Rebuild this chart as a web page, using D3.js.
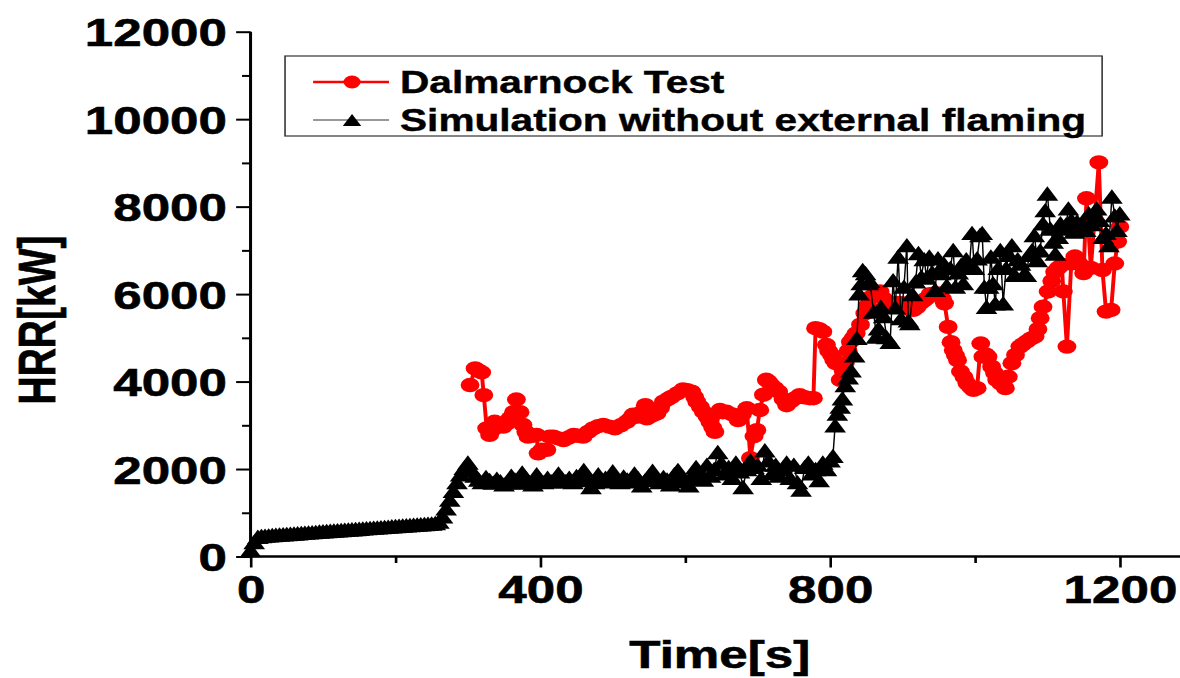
<!DOCTYPE html>
<html>
<head>
<meta charset="utf-8">
<script src="https://cdn.jsdelivr.net/npm/d3@7"></script>
<style>
  body { margin: 0; background: #fff; }
  svg { display: block; }
  text { font-family: "Liberation Sans", Arial, sans-serif; font-weight: bold; fill: #000; }
</style>
</head>
<body>
<svg id="chart" width="1180" height="678"></svg>
<script>
// Dalmarnock test (red)
const testTime = [303,310,315,319,322,326,330,334,337,343,349,354,358,363,367,372,376,380,383,389,395,397,402,409,413,418,425,432,439,446,452,459,466,473,480,487,495,503,511,519,524,528,535,540,545,547,554,561,566,570,576,581,589,597,603,609,613,616,621,625,630,634,638,641,648,652,657,665,673,679,685,690,695,699,703,708,712,715,719,724,729,735,740,746,752,758,765,772,777,780,785,790,795,798,802,805,808,814,818,821,825,828,832,836,842,848,852,857,863,869,874,878,885,892,899,905,910,915,920,925,929,933,938,943,947,951,955,958,963,967,970,973,976,980,985,989,994,998,1003,1008,1011,1015,1018,1023,1027,1030,1036,1042,1046,1051,1056,1062,1066,1071,1077,1083,1087,1090,1094,1101,1106,1110,1115,1120,1122,1127,1133,1138,1144,1150,1154,1160,1171,1176,1181,1188,1193,1197,1200];
const testHrr = [3920,4300,4250,4210,3690,2930,2780,2900,3080,3000,2970,3050,3160,3300,3590,3300,3010,2850,2740,2760,2780,2360,2440,2440,2740,2740,2700,2660,2720,2780,2760,2740,2850,2930,2980,3010,2970,2930,3000,3080,3150,3240,3200,3300,3460,3160,3220,3270,3400,3540,3600,3650,3730,3820,3800,3770,3650,3540,3420,3310,3200,3080,2950,2850,3350,3300,3310,3250,3120,3250,3390,2250,2750,2890,3350,3700,4040,4000,3920,3850,3770,3600,3460,3550,3620,3690,3640,3620,3620,5220,5200,5140,4840,4700,4610,4500,4420,4040,4250,4420,4700,4910,5000,5100,5300,5560,5750,5940,6000,6060,5900,5710,5750,5800,5790,5700,5650,5640,5700,5800,5850,5900,6000,6010,6020,6000,5900,5790,5250,4900,4720,4600,4490,4230,4100,3960,3870,3810,3850,4870,4570,4620,4570,4340,4200,4040,3950,3850,4110,4420,4610,4800,4850,4910,4980,5030,5200,5450,5710,6060,6300,6510,6600,6670,6060,4800,6700,6860,6700,6480,8190,6600,9010,6550,5600,5640,6700,7200,7540];

// Simulation without external flaming (black)
const simTime = [0,5,10,15,20,25,30,35,40,45,50,55,60,65,70,75,80,85,90,95,100,105,110,115,120,125,130,135,140,145,150,155,160,165,170,175,180,185,190,195,200,205,210,215,220,225,230,235,240,245,250,255,260,265,270,275,280,285,290,295,300,
  305,310,315,320,325,330,335,340,345,350,355,360,365,370,375,380,385,390,395,400,405,410,415,420,425,430,435,440,445,450,455,460,465,470,475,480,485,490,495,500,505,510,515,520,525,530,535,540,545,550,555,560,565,570,575,580,585,590,595,600,605,610,615,620,625,630,635,640,645,650,655,660,665,670,675,680,685,690,695,700,705,710,715,720,725,730,735,740,745,750,755,760,765,770,775,780,785,790,795,800,
  804,807,810,814,817,821,825,829,834,837,840,843,845,849,853,
  855,860,864,867,870,874,878,883,887,890,894,898,902,906,908,910,914,918,922,926,930,933,937,941,945,949,953,957,961,966,970,973,977,981,984,988,992,996,999,1003,1007,1010,1013,1016,1019,1022,1025,1028,1032,1035,1039,1043,1047,1051,1055,1059,1063,1067,1071,1075,1079,1082,1086,1090,1094,1097,1100,1104,1108,1111,1115,1118,1122,1126,1129,1133,1137,1141,1145,1149,1153,1157,1161,1165,1168,1172,1177,1181,1185,1189,1193,1196,1200];
const simHrr = [150,330,450,470,478,484,490,497,503,508,515,521,527,533,540,545,552,558,564,570,576,582,588,594,600,606,612,618,624,630,636,642,648,654,660,666,672,678,684,690,696,702,708,714,720,726,732,738,744,750,756,765,800,920,1100,1300,1500,1700,1880,2030,2150,
  1980,1850,1760,1700,1820,1750,1690,1780,1720,1650,1700,1850,1760,1690,1920,1800,1700,1650,1880,1760,1700,1800,1720,1760,1900,1780,1720,1800,1700,1840,1760,1980,1750,1590,1700,1880,1760,1800,1720,1950,1780,1700,1830,1760,1720,1900,1790,1630,1750,1850,1960,1780,1700,1820,1760,1650,1880,1980,1800,1720,1630,1870,2050,1800,1760,2100,1850,2000,2390,2150,1900,2050,1800,2150,1950,1590,2000,2200,2050,2100,1800,2430,2200,1900,2100,1850,2000,2150,1800,2100,1700,1530,2050,2150,1900,2000,1750,2150,2000,2200,
  2300,3000,3270,3430,3620,3920,4100,4260,4600,5000,6020,6250,6550,6480,6250,
  6300,5600,5030,5220,5710,5500,5020,4910,6320,5700,6860,5450,6170,7120,5400,5340,6000,6290,6940,6400,6800,6380,6860,6500,6100,6820,6480,6700,6200,6600,7010,6170,6500,6670,6250,6800,6600,7400,6600,6820,7350,7400,6170,5710,6170,6860,6250,5790,6600,7010,5790,6600,6900,7120,6440,6800,6700,6440,6440,6900,7010,7350,6780,7000,7620,7920,8300,7500,7200,6930,7310,7620,7500,7600,7960,7700,7430,7660,7500,7600,7470,7850,7600,7740,7960,7700,7310,7400,7120,8230,7800,7470,7850];

const seriesNames = ["Dalmarnock Test", "Simulation without external flaming"];
const xMajor = [0, 400, 800, 1200];
const xMinor = [200, 600, 1000];
const yMajor = [0, 2000, 4000, 6000, 8000, 10000, 12000];
const yMinor = [1000, 3000, 5000, 7000, 9000, 11000];

// the picture is an 900px wide plot stretched to 1180
const stretch = 1180 / 900;

const svg = d3.select("#chart");
const g = svg.append("g").attr("transform", `scale(${stretch},1)`);

const x = d3.scaleLinear().domain([0, 1200]).range([191.1, 854.1]);
const y = d3.scaleLinear().domain([0, 12000]).range([556.5, 31.7]);

// axes
const yAxis = g.append("g").attr("transform", `translate(${x(0)},0)`)
  .call(d3.axisLeft(y).tickValues(yMajor).tickSize(11).tickPadding(7).tickFormat(d3.format("d")));
const yAxisMinor = g.append("g").attr("transform", `translate(${x(0)},0)`)
  .call(d3.axisLeft(y).tickValues(yMinor).tickSize(6.5).tickFormat(""));
const xAxis = g.append("g").attr("transform", `translate(0,${y(0)})`)
  .call(d3.axisBottom(x).tickValues(xMajor).tickSize(11).tickPadding(8).tickFormat(d3.format("d")));
const xAxisMinor = g.append("g").attr("transform", `translate(0,${y(0)})`)
  .call(d3.axisBottom(x).tickValues(xMinor).tickSize(6.5).tickFormat(""));

[yAxisMinor, xAxisMinor, xAxis].forEach(a => a.select(".domain").remove());
yAxis.select(".domain").attr("d", `M0,${y(0)}V${y(12000)}`);
g.append("line")
  .attr("x1", x(0) - 1).attr("x2", 900)
  .attr("y1", y(0)).attr("y2", y(0))
  .attr("stroke", "#000").attr("stroke-width", 2.3);

g.selectAll(".tick line").attr("stroke", "#000").attr("stroke-width", 2);
yAxis.select(".domain").attr("stroke", "#000").attr("stroke-width", 2.3);
g.selectAll(".tick text").style("font-size", "39px").attr("fill", "#000")
  .attr("stroke", "#000").attr("stroke-width", 0.6);
yAxis.selectAll(".tick text").attr("dy", "0.36em");
xAxis.selectAll(".tick text").attr("dy", "0.71em");

// axis titles
g.append("text")
  .attr("x", 549).attr("y", 668)
  .attr("text-anchor", "middle")
  .style("font-size", "39px")
  .attr("stroke", "#000").attr("stroke-width", 0.6)
  .text("Time[s]");
g.append("text")
  .attr("transform", "translate(42,320) rotate(-90)")
  .attr("text-anchor", "middle")
  .style("font-size", "39px")
  .attr("stroke", "#000").attr("stroke-width", 0.6)
  .text("HRR[kW]");

const triangle = "M0,-7.2L8.3,7.2L-8.3,7.2Z";

// red series
const testData = testTime.map((t, i) => ({t, v: testHrr[i]}));
g.append("path")
  .datum(testData)
  .attr("fill", "none").attr("stroke", "#ff0000").attr("stroke-width", 3)
  .attr("stroke-linejoin", "round")
  .attr("d", d3.line().x(d => x(d.t)).y(d => y(d.v)));
g.append("g").selectAll("circle")
  .data(testData)
  .join("circle")
  .attr("cx", d => x(d.t)).attr("cy", d => y(d.v))
  .attr("r", 7.2).attr("fill", "#ff0000");

// black series
const simData = simTime.map((t, i) => ({t, v: simHrr[i]}));
g.append("path")
  .datum(simData)
  .attr("fill", "none").attr("stroke", "#000").attr("stroke-width", 1.1)
  .attr("d", d3.line().x(d => x(d.t)).y(d => y(d.v)));
g.append("g").selectAll("path")
  .data(simData)
  .join("path")
  .attr("transform", d => `translate(${x(d.t)},${y(d.v)})`)
  .attr("d", triangle).attr("fill", "#000");

// legend
const legend = g.append("g");
legend.append("rect")
  .attr("x", 217.4).attr("y", 56).attr("width", 623.2).attr("height", 80)
  .attr("fill", "#fff").attr("stroke", "#333").attr("stroke-width", 1.2);
legend.append("line")
  .attr("x1", 238.8).attr("x2", 296.7).attr("y1", 82).attr("y2", 82)
  .attr("stroke", "#ff0000").attr("stroke-width", 2.7);
legend.append("circle").attr("cx", 268.5).attr("cy", 82).attr("r", 6.5).attr("fill", "#ff0000");
legend.append("line")
  .attr("x1", 238.8).attr("x2", 296.7).attr("y1", 120).attr("y2", 120)
  .attr("stroke", "#333").attr("stroke-width", 1);
legend.append("path").attr("transform", "translate(268.5,120) scale(0.85)").attr("d", triangle).attr("fill", "#000");
legend.selectAll("text.lab")
  .data(seriesNames)
  .join("text")
  .attr("class", "lab")
  .attr("x", 305.1)
  .attr("y", (d, i) => 93 + i * 38)
  .style("font-size", "31px")
  .attr("stroke", "#000").attr("stroke-width", 0.4)
  .text(d => d);
</script>
</body>
</html>
